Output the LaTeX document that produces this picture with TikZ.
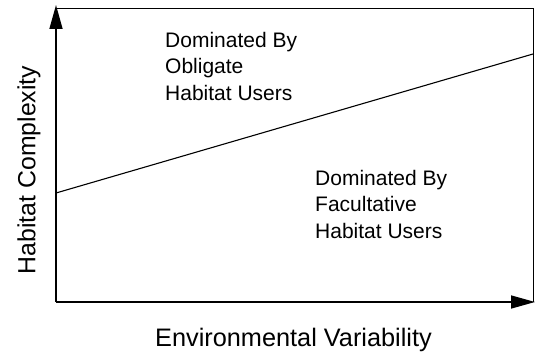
\documentclass[tikz,border=0pt]{standalone}
\usepackage{fontspec}
\setmainfont{Liberation Sans}
\usetikzlibrary{arrows.meta}

\begin{document}
\begin{tikzpicture}[x=1pt,y=1pt]
    \useasboundingbox (0,0) rectangle (535,354);
    \coordinate (o) at (56,52);
    \coordinate (xe) at (535,52);
    \coordinate (ye) at (56,349);
    \coordinate (tl) at (57,346);
    \coordinate (tr) at (533,346);
    \coordinate (br) at (533,52);
    \coordinate (l0) at (56,161);
    \coordinate (l1) at (533,300);
    \draw[line width=0.9pt] (tl) -- (tr) -- (br);
    \draw[line width=1.5pt,-{Triangle[length=24pt,width=13pt]}] (o) -- (xe);
    \draw[line width=1.5pt,-{Triangle[length=24pt,width=13pt]}] (o) -- (ye);
    \draw[line width=1.1pt] (l0) -- (l1);
    \node[anchor=north west,inner sep=0pt,align=left,
      font=\fontsize{21}{26.5}\selectfont] (obl) at (165,322.3)
      {Dominated By\\Obligate\\Habitat Users};
    \node[anchor=north west,inner sep=0pt,align=left,
      font=\fontsize{21}{26.5}\selectfont] (fac) at (315,184.3)
      {Dominated By\\Facultative\\Habitat Users};
    \node[anchor=base,inner sep=0pt,font=\fontsize{25.3}{30}\selectfont]
      (xlab) at (293.5,8) {Environmental Variability};
    \node[rotate=90,inner sep=0pt,font=\fontsize{24.8}{29}\selectfont]
      (ylab) at (29,184) {Habitat Complexity};
\end{tikzpicture}
\end{document}
